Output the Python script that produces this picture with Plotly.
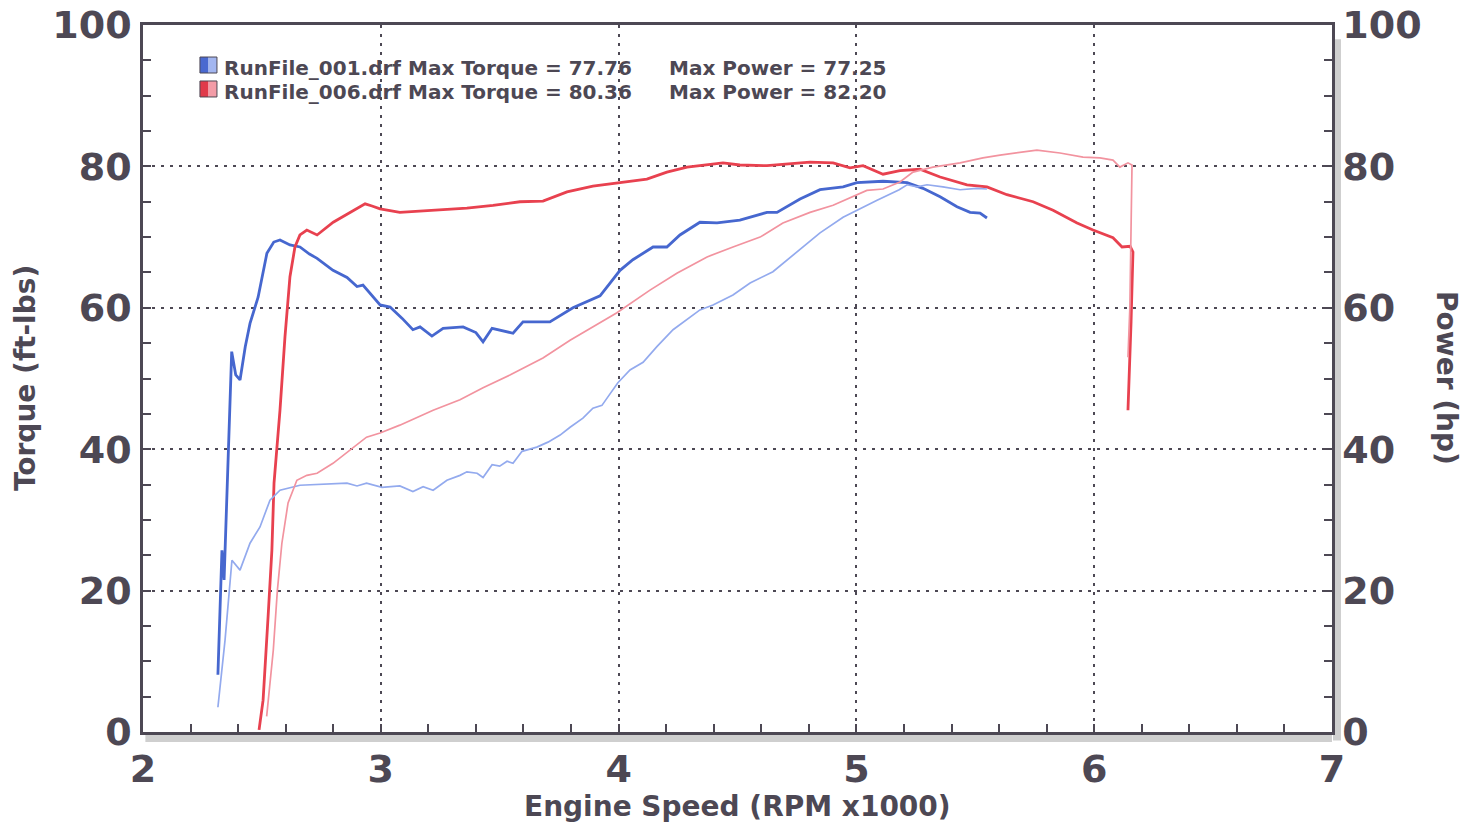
import plotly.graph_objects as go

# ---------------- data ----------------
run1_torque_rpm = [2.315, 2.332, 2.341, 2.373, 2.390, 2.408, 2.430, 2.450, 2.484, 2.521, 2.550, 2.576,
                   2.618, 2.660, 2.700, 2.732, 2.799, 2.858, 2.900, 2.925, 2.997, 3.039, 3.090, 3.135,
                   3.165, 3.215, 3.262, 3.346, 3.400, 3.430, 3.468, 3.501, 3.556, 3.598, 3.711, 3.808,
                   3.922, 3.964, 4.006, 4.060, 4.145, 4.203, 4.258, 4.342, 4.414, 4.510, 4.624, 4.666,
                   4.763, 4.847, 4.944, 5.002, 5.112, 5.213, 5.280, 5.352, 5.423, 5.478, 5.520, 5.549]
run1_torque = [8.1, 25.7, 21.5, 53.8, 50.5, 49.8, 54.5, 57.8, 61.5, 67.7, 69.3, 69.6,
               68.9, 68.6, 67.6, 67.0, 65.3, 64.3, 63.0, 63.2, 60.4, 60.1, 58.5, 56.9,
               57.3, 56.0, 57.1, 57.3, 56.5, 55.2, 57.1, 56.8, 56.4, 58.0, 58.0, 60.0,
               61.7, 63.5, 65.3, 66.8, 68.6, 68.6, 70.3, 72.1, 72.0, 72.4, 73.5, 73.5,
               75.4, 76.7, 77.1, 77.7, 77.9, 77.7, 76.9, 75.7, 74.3, 73.5, 73.4, 72.7]

run1_power_rpm = [2.315, 2.336, 2.345, 2.374, 2.408, 2.450, 2.492, 2.534, 2.576, 2.660, 2.760, 2.858,
                  2.900, 2.940, 3.005, 3.080, 3.135, 3.178, 3.220, 3.278, 3.333, 3.362, 3.405, 3.430,
                  3.468, 3.500, 3.531, 3.556, 3.594, 3.656, 3.703, 3.754, 3.796, 3.850, 3.892, 3.930,
                  3.955, 3.997, 4.048, 4.103, 4.161, 4.229, 4.342, 4.397, 4.481, 4.553, 4.649, 4.763,
                  4.847, 4.944, 5.002, 5.087, 5.180, 5.213, 5.255, 5.297, 5.364, 5.436, 5.507, 5.549]
run1_power = [3.5, 9.8, 13.0, 24.3, 22.9, 26.7, 29.0, 32.8, 34.2, 34.9, 35.0, 35.2,
              34.8, 35.2, 34.6, 34.8, 34.0, 34.7, 34.2, 35.6, 36.3, 36.8, 36.6, 36.0,
              37.8, 37.6, 38.3, 38.0, 39.7, 40.3, 41.0, 42.0, 43.1, 44.4, 45.8, 46.2,
              47.4, 49.4, 51.2, 52.3, 54.5, 56.9, 59.7, 60.4, 61.8, 63.5, 65.1, 68.2,
              70.6, 72.8, 73.8, 75.2, 76.7, 77.4, 77.1, 77.4, 77.1, 76.7, 76.9, 76.8]

run6_torque_rpm = [2.488, 2.505, 2.526, 2.542, 2.551, 2.563, 2.576, 2.597, 2.618, 2.639, 2.660, 2.689,
                   2.732, 2.800, 2.870, 2.934, 2.963, 2.997, 3.080, 3.220, 3.362, 3.472, 3.585, 3.682,
                   3.783, 3.892, 4.006, 4.119, 4.203, 4.288, 4.439, 4.510, 4.624, 4.763, 4.805, 4.902,
                   4.973, 5.028, 5.112, 5.183, 5.267, 5.352, 5.465, 5.549, 5.633, 5.743, 5.827, 5.928,
                   5.995, 6.079, 6.117, 6.151, 6.163, 6.155, 6.142]
run6_torque = [0.3, 4.5, 16.3, 25.7, 35.2, 39.9, 45.5, 55.9, 64.4, 68.6, 70.3, 71.0,
               70.3, 72.1, 73.4, 74.7, 74.4, 74.0, 73.5, 73.8, 74.1, 74.5, 75.0, 75.1,
               76.4, 77.2, 77.7, 78.2, 79.2, 79.9, 80.5, 80.2, 80.1, 80.5, 80.6, 80.5,
               79.8, 80.1, 78.9, 79.4, 79.6, 78.5, 77.4, 77.1, 76.0, 75.0, 73.8, 72.0,
               71.0, 69.9, 68.6, 68.7, 67.9, 58.0, 45.5]

run6_power_rpm = [2.520, 2.548, 2.565, 2.584, 2.610, 2.647, 2.689, 2.732, 2.799, 2.870, 2.940, 2.997,
                  3.080, 3.220, 3.333, 3.430, 3.543, 3.682, 3.796, 3.993, 4.132, 4.245, 4.372, 4.481,
                  4.595, 4.691, 4.805, 4.902, 4.973, 5.044, 5.112, 5.183, 5.238, 5.322, 5.436, 5.532,
                  5.604, 5.675, 5.759, 5.856, 5.953, 6.024, 6.079, 6.108, 6.142, 6.159, 6.150, 6.142]
run6_power = [2.2, 11.6, 20.0, 26.7, 32.4, 35.6, 36.3, 36.6, 38.0, 39.9, 41.7, 42.3,
              43.4, 45.5, 47.0, 48.7, 50.5, 52.9, 55.4, 59.3, 62.5, 64.9, 67.2, 68.6,
              70.0, 72.0, 73.5, 74.5, 75.5, 76.6, 76.8, 77.8, 79.2, 79.9, 80.5, 81.2,
              81.6, 81.9, 82.3, 81.9, 81.3, 81.2, 80.9, 79.9, 80.5, 80.2, 60.1, 53.0]

legend_rows = [
    ("RunFile_001.drf Max Torque = 77.76", "Max Power = 77.25"),
    ("RunFile_006.drf Max Torque = 80.36", "Max Power = 82.20"),
]
x_ticks = [2, 3, 4, 5, 6, 7]
y_ticks = [0, 20, 40, 60, 80, 100]

# ---------------- style ----------------
INK = "#4d4854"
BLUE_DARK = "#4667cf"
BLUE_LIGHT = "#93aaee"
RED_DARK = "#e8414f"
RED_LIGHT = "#f2939f"
FONT = "DejaVu Sans"

fig = go.Figure()
fig.add_trace(go.Scatter(x=run1_power_rpm, y=run1_power, mode="lines", yaxis="y2",
                         line=dict(color=BLUE_LIGHT, width=1.7), name="RunFile_001 Power"))
fig.add_trace(go.Scatter(x=run6_power_rpm, y=run6_power, mode="lines", yaxis="y2",
                         line=dict(color=RED_LIGHT, width=1.7), name="RunFile_006 Power"))
fig.add_trace(go.Scatter(x=run1_torque_rpm, y=run1_torque, mode="lines",
                         line=dict(color=BLUE_DARK, width=2.8), name="RunFile_001 Torque"))
fig.add_trace(go.Scatter(x=run6_torque_rpm, y=run6_torque, mode="lines",
                         line=dict(color=RED_DARK, width=2.8), name="RunFile_006 Torque"))

tickfont = dict(family=FONT, size=38, color=INK, weight="bold")
common_axis = dict(showline=True, linecolor=INK, linewidth=2.5, ticks="inside", ticklen=8,
                   tickwidth=2, tickcolor=INK, tickfont=tickfont, zeroline=False, automargin=False)

fig.update_layout(
    width=1465, height=823,
    margin=dict(l=143, r=133, t=25, b=91),
    paper_bgcolor="white", plot_bgcolor="white",
    showlegend=False,
    xaxis=dict(range=[2, 7], tickvals=x_ticks, ticktext=[str(v) for v in x_ticks],
               mirror=True, showgrid=True, gridcolor=INK, gridwidth=2.2, griddash="3px,6px",
               minor=dict(dtick=0.2, ticks="inside", ticklen=8, tickwidth=2, tickcolor=INK, showgrid=False),
               ticklabelstandoff=2, **common_axis),
    yaxis=dict(range=[0, 100], tickvals=y_ticks, ticktext=[str(v) for v in y_ticks],
               showgrid=True, gridcolor=INK, gridwidth=2.2, griddash="3px,6px",
               minor=dict(dtick=5, ticks="inside", ticklen=8, tickwidth=2, tickcolor=INK, showgrid=False),
               ticklabelstandoff=1, **common_axis),
    yaxis2=dict(range=[0, 100], tickvals=y_ticks, ticktext=[str(v) for v in y_ticks],
                overlaying="y", side="right", showgrid=False,
                minor=dict(dtick=5, ticks="inside", ticklen=8, tickwidth=2, tickcolor=INK, showgrid=False),
                ticklabelstandoff=0, **common_axis),
)

# shadows under bottom axis and beside right axis
fig.add_shape(type="rect", xref="paper", yref="paper", x0=0.002, x1=1.0, ysizemode="pixel",
              yanchor=0, y0=-10, y1=-1, fillcolor="#cfcfcf", line_width=0, layer="below")
fig.add_shape(type="rect", xref="paper", yref="paper", y0=-0.012, y1=0.98, xsizemode="pixel",
              xanchor=1, x0=1, x1=9, fillcolor="#cfcfcf", line_width=0, layer="below")

# legend swatches
sw = [(0.9547, 0.9321, "#4a69d0", "#a3b6f0"), (0.9208, 0.8982, "#e03a4a", "#f39ca7")]
for (ytop, ybot, c1, c2) in sw:
    fig.add_shape(type="rect", xref="paper", yref="paper", x0=0.0479, x1=0.0551, y0=ybot, y1=ytop,
                  fillcolor=c1, line_width=0)
    fig.add_shape(type="rect", xref="paper", yref="paper", x0=0.0551, x1=0.0622, y0=ybot, y1=ytop,
                  fillcolor=c2, line_width=0)
    fig.add_shape(type="rect", xref="paper", yref="paper", x0=0.0479, x1=0.0622, y0=ybot, y1=ytop,
                  line=dict(color=INK, width=1))

legfont = dict(family=FONT, size=20, color=INK, weight="bold")
for (left_txt, right_txt), yc in zip(legend_rows, [0.9392, 0.9052]):
    fig.add_annotation(text=left_txt, xref="paper", yref="paper", x=0.0664, y=yc,
                       xanchor="left", yanchor="middle", showarrow=False, font=legfont)
    fig.add_annotation(text=right_txt, xref="paper", yref="paper", x=0.4407, y=yc,
                       xanchor="left", yanchor="middle", showarrow=False, font=legfont)

titlefont = dict(family=FONT, size=28, color=INK, weight="bold")
fig.add_annotation(text="Engine Speed (RPM x1000)", xref="paper", yref="paper", x=0.5, y=-0.1047,
                   xanchor="center", yanchor="middle", showarrow=False, font=titlefont)
fig.add_annotation(text="Torque (ft-lbs)", xref="paper", yref="paper", x=-0.0992, y=0.5007,
                   xanchor="center", yanchor="middle", showarrow=False, font=titlefont, textangle=-90)
fig.add_annotation(text="Power (hp)", xref="paper", yref="paper", x=1.0967, y=0.5007,
                   xanchor="center", yanchor="middle", showarrow=False, font=titlefont, textangle=90)

fig.write_html("out.html", config={"displayModeBar": False},
               post_script="document.body.style.margin='0';document.body.style.overflow='hidden';")
